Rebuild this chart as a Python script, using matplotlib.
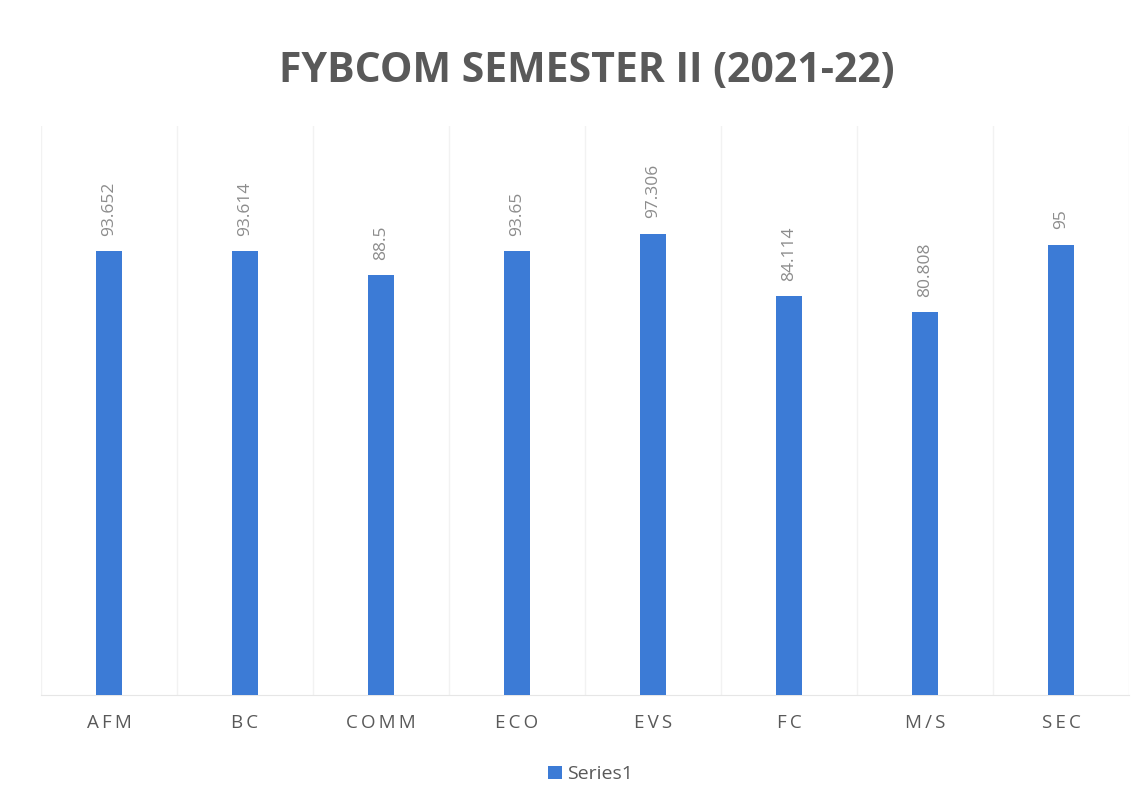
import matplotlib.pyplot as plt
import numpy as np

subjects = ['AFM', 'BC', 'COMM', 'ECO', 'EVS', 'FC', 'M/S', 'SEC']
scores = [93.652, 93.614, 88.5, 93.65, 97.306, 84.114, 80.808, 95]
score_labels = ['93.652', '93.614', '88.5', '93.65', '97.306', '84.114', '80.808', '95']

bar_color = '#3C7BD6'
text_grey = '#595959'
fonts = ['Open Sans', 'DejaVu Sans']

fig = plt.figure(figsize=(11.47, 8.09), dpi=100)
ax = fig.add_axes([0.0357, 0.141, 0.9486, 0.703])

x = np.arange(len(subjects))
bars = ax.bar(x, scores, width=0.19, color=bar_color, label='Series1', zorder=3)

for xi, val, lab in zip(x, scores, score_labels):
    ax.annotate(lab, (xi, val), xytext=(0, 11), textcoords='offset points',
                rotation=90, ha='center', va='bottom', fontsize=12.5,
                color='#8c8c8c', family=fonts)

ax.set_xlim(-0.5, len(subjects) - 0.5)
ax.set_ylim(0, 120)
ax.set_xticks(x)
# the reference uses wide letter spacing on the category labels
spaced = ['\u2009'.join(s) for s in subjects]
ax.set_xticklabels(spaced, fontsize=13.5, color=text_grey, family=fonts)
ax.tick_params(axis='x', length=0, pad=14)
ax.set_yticks([])

# faint separators between categories
for b in np.arange(-0.5, len(subjects), 1.0):
    ax.axvline(b, color='#f2f2f2', lw=1, zorder=0)

for s in ['top', 'left', 'right']:
    ax.spines[s].set_visible(False)
ax.spines['bottom'].set_color('#e6e6e6')

fig.suptitle('FYBCOM SEMESTER II (2021-22)', x=0.512, y=0.937, fontsize=29.5,
             fontweight='bold', color=text_grey, family=fonts)

fig.legend(handles=[bars], labels=['Series1'], loc='center', bbox_to_anchor=(0.515, 0.043),
           frameon=False, handlelength=0.7, handleheight=0.7,
           handletextpad=0.3, labelcolor=text_grey, prop={'family': fonts, 'size': 14})

fig.savefig('out.png', dpi=100)
